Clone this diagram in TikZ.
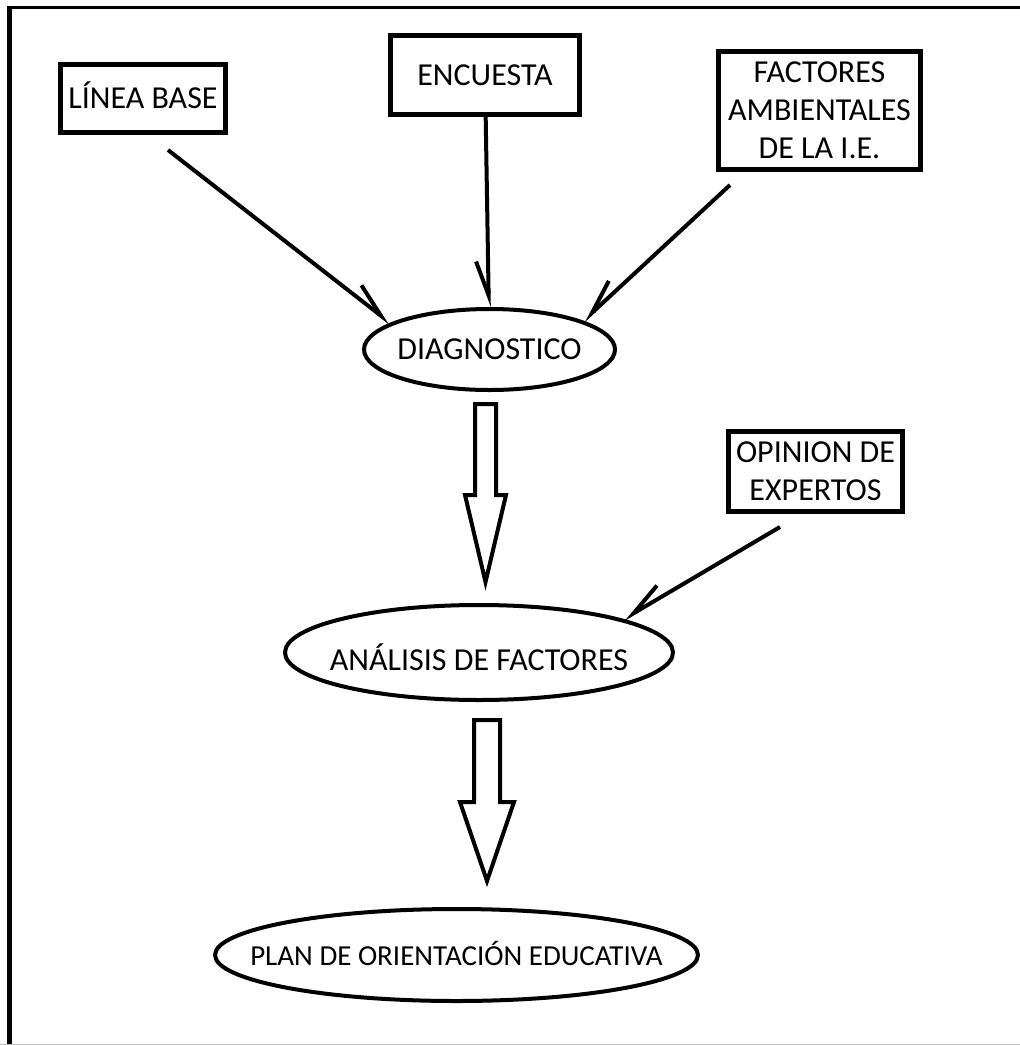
\documentclass[tikz,border=0pt]{standalone}
\usepackage{fontspec}
\setmainfont{Carlito}
\usetikzlibrary{arrows.meta}
\tikzset{
  % node styles (input boxes, stages of the process)
  input/.style={rectangle,draw,line width=2.5pt,inner sep=0pt,align=center,
    font=\fontsize{16}{19}\selectfont},
  % text in a zero-width box, so that only minimum width/height set the ellipse
  stage/.style={ellipse,draw,line width=2pt,inner sep=0pt,
    font=\fontsize{16}{19}\selectfont,text height=10.3pt,text depth=0pt},
  % connector styles
  feed/.style={line width=2pt,-{Straight Barb[harpoon,length=17pt,width=12pt]}},
  feedr/.style={line width=2pt,-{Straight Barb[harpoon,swap,length=17pt,width=12pt]}},
  bigarrow/.style={draw,line width=2pt,line join=miter},
}
\usetikzlibrary{shapes.geometric}
\newcommand{\stagetext}[1]{\makebox[0pt]{#1}}

\begin{document}
\begin{tikzpicture}[x=0.5pt,y=-0.5pt]
  \useasboundingbox (0,0) rectangle (1020,1045);
  % frame
  \draw[line width=1.5pt] (7,7) -- (1020,7);
  \draw[line width=2.5pt] (9,5.5) -- (9,1045);
  \draw[gray!50,line width=1pt] (0,1044.5) -- (1020,1044.5);

  \node[input,minimum width=82.5pt,minimum height=34pt,text height=10.3pt,text depth=0pt] (linea) at (143,98.5) {LÍNEA BASE};
  \node[input,minimum width=94.5pt,minimum height=39.5pt] (encuesta) at (485,75) {ENCUESTA};
  \node[input,minimum width=101pt,minimum height=59pt] (factores) at (819.5,110.5) {FACTORES\\AMBIENTALES\\DE LA I.E.};
  \node[input,minimum width=87pt,minimum height=40pt] (opinion) at (815.5,471.5) {OPINION DE\\EXPERTOS};

  \node[stage,minimum width=125.5pt,minimum height=40.5pt] (diag) at (489.5,349.5) {\stagetext{DIAGNOSTICO}};
  \node[stage,minimum width=194pt,minimum height=47.5pt] (analisis) at (479,652.5) {\stagetext{\raisebox{-4pt}{ANÁLISIS DE FACTORES}}};
  \node[stage,minimum width=241.5pt,minimum height=46pt,font=\fontsize{14.5}{17}\selectfont] (plan) at (456.5,955) {\stagetext{PLAN DE ORIENTACIÓN EDUCATIVA}};

  \draw[feed] ([xshift=12.5pt,yshift=-7.5pt]linea.south) -- (diag.165);
  \draw[feedr] (encuesta) -- (diag);
  \draw[feedr] ([xshift=7pt,yshift=-6.5pt]factores.south west) -- (diag.17);
  \draw[feedr] ([xshift=-17.75pt,yshift=-6.5pt]opinion.south) -- (analisis.13);

  \draw[bigarrow] (diag.south) +(-14.5,12) -- +(-14.5,103) -- +(-24.5,103) -- +(-4,190)
    -- +(16.5,103) -- +(6.5,103) -- +(6.5,12) -- cycle;
  \draw[bigarrow] (analisis.south) +(-5,18) -- +(-5,100) -- +(-19,100) -- +(8,179)
    -- +(35,100) -- +(21,100) -- +(21,18) -- cycle;
\end{tikzpicture}
\end{document}
